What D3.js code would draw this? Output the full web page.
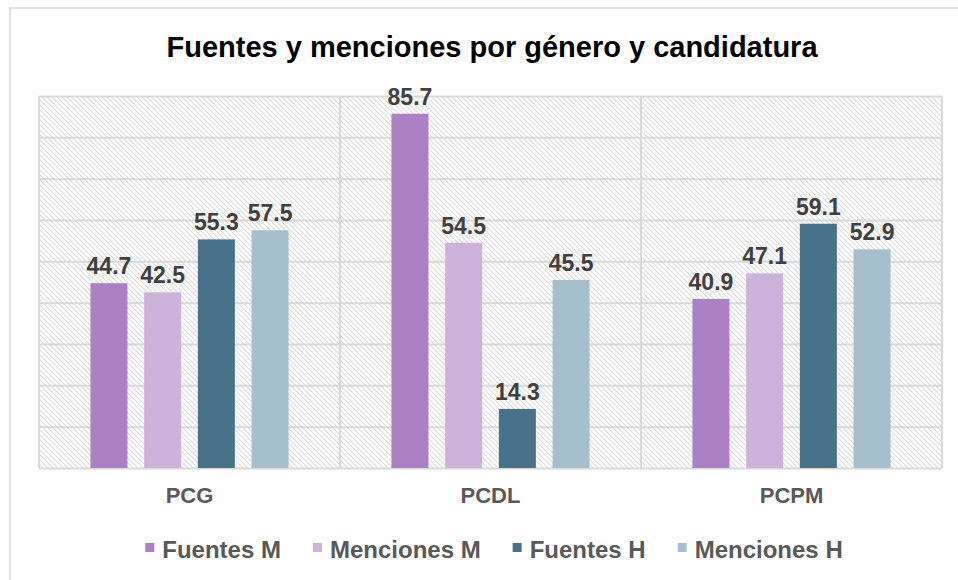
<!DOCTYPE html>
<html>
<head>
<meta charset="utf-8">
<script src="https://cdn.jsdelivr.net/npm/d3@7"></script>
<style>
  html, body { margin: 0; padding: 0; background: #fff; }
  svg { display: block; }
  text { font-family: "Liberation Sans", Arial, sans-serif; }
</style>
</head>
<body>
<svg id="chart" width="958" height="580"></svg>
<script>
const title = "Fuentes y menciones por género y candidatura";
const categories = ["PCG", "PCDL", "PCPM"];
const seriesNames = ["Fuentes M", "Menciones M", "Fuentes H", "Menciones H"];
const fuentesM = [44.7, 85.7, 40.9];
const mencionesM = [42.5, 54.5, 47.1];
const fuentesH = [55.3, 14.3, 59.1];
const mencionesH = [57.5, 45.5, 52.9];
const yTicks = [0, 10, 20, 30, 40, 50, 60, 70, 80, 90];

const seriesValues = [fuentesM, mencionesM, fuentesH, mencionesH];
const colors = ["#ab81c4", "#cdb3dc", "#48728a", "#a5bfce"];

const svg = d3.select("#chart");
const W = 958, H = 580;
const plot = { left: 39, right: 942, top: 96, bottom: 468 };

// outer chart border (cut off at right/bottom like the reference)
svg.append("rect")
  .attr("x", 10).attr("y", 8).attr("width", W + 20).attr("height", H + 20)
  .attr("fill", "#fff").attr("stroke", "#d9d9d9").attr("stroke-width", 1.5);

// hatch pattern
const defs = svg.append("defs");
const pat = defs.append("pattern")
  .attr("id", "hatch").attr("patternUnits", "userSpaceOnUse")
  .attr("width", 5).attr("height", 5);
pat.append("rect").attr("width", 5).attr("height", 5).attr("fill", "#fff");
pat.append("path").attr("d", "M-1,-1 L6,6 M-1,4 L1,6 M4,-1 L6,1")
  .attr("stroke", "#dedede").attr("stroke-width", 1.2);

const x0 = d3.scaleBand().domain(categories).range([plot.left, plot.right]).paddingInner(0).paddingOuter(0);
const x1 = d3.scaleBand().domain(seriesNames).range([0, x0.bandwidth()]).paddingInner(0.311).paddingOuter(0.958);
const y = d3.scaleLinear().domain([0, 90]).range([plot.bottom, plot.top]);

svg.append("rect")
  .attr("x", plot.left).attr("y", plot.top)
  .attr("width", plot.right - plot.left).attr("height", plot.bottom - plot.top)
  .attr("fill", "url(#hatch)");

// horizontal gridlines
svg.append("g")
  .attr("transform", `translate(${plot.left},0)`)
  .call(d3.axisLeft(y).tickValues(yTicks).tickSize(-(plot.right - plot.left)).tickFormat(""))
  .call(g => g.select(".domain").remove())
  .call(g => g.selectAll(".tick line").attr("stroke", "#d9d9d9").attr("stroke-width", 2));

// vertical category boundaries
const bounds = categories.map(c => x0(c)).concat([x0(categories[categories.length - 1]) + x0.bandwidth()]);
svg.append("g").selectAll("line").data(bounds).join("line")
  .attr("x1", d => d).attr("x2", d => d)
  .attr("y1", plot.top).attr("y2", plot.bottom)
  .attr("stroke", "#d9d9d9").attr("stroke-width", 2);

// bars
const groups = svg.append("g").selectAll("g").data(categories).join("g")
  .attr("transform", c => `translate(${x0(c)},0)`);

groups.each(function(c, ci) {
  const g = d3.select(this);
  const data = seriesNames.map((s, si) => ({ s, si, v: seriesValues[si][ci] }));
  g.selectAll("rect").data(data).join("rect")
    .attr("x", d => x1(d.s))
    .attr("y", d => y(d.v))
    .attr("width", x1.bandwidth())
    .attr("height", d => y(0) - y(d.v))
    .attr("fill", d => colors[d.si]);
  g.selectAll("text.lbl").data(data).join("text")
    .attr("class", "lbl")
    .attr("x", d => x1(d.s) + x1.bandwidth() / 2)
    .attr("y", d => y(d.v) - 9)
    .attr("text-anchor", "middle")
    .attr("font-size", 23).attr("font-weight", "bold")
    .attr("fill", "#404040")
    .text(d => d.v.toFixed(1));
});

// category labels
svg.append("g").selectAll("text").data(categories).join("text")
  .attr("x", c => x0(c) + x0.bandwidth() / 2)
  .attr("y", 503)
  .attr("text-anchor", "middle")
  .attr("font-size", 22).attr("font-weight", "bold")
  .attr("fill", "#595959")
  .text(c => c);

// title
svg.append("text")
  .attr("x", 492).attr("y", 57)
  .attr("text-anchor", "middle")
  .attr("font-size", 29).attr("font-weight", "bold")
  .attr("fill", "#000")
  .text(title);

// legend
const legend = svg.append("g");
const items = legend.selectAll("g").data(seriesNames).join("g");
items.append("rect").attr("x", 0).attr("y", -6).attr("width", 9).attr("height", 9)
  .attr("fill", (d, i) => colors[i]);
items.append("text").attr("x", 17).attr("y", 0).attr("dy", "0.36em")
  .attr("font-size", 24).attr("font-weight", "bold").attr("fill", "#595959")
  .text(d => d);
let cx = 0;
const gap = 32;
items.each(function() {
  const w = 17 + d3.select(this).select("text").node().getComputedTextLength();
  d3.select(this).attr("transform", `translate(${cx},0)`);
  cx += w + gap;
});
const totalW = cx - gap;
legend.attr("transform", `translate(${494 - totalW / 2},549)`);
</script>
</body>
</html>
